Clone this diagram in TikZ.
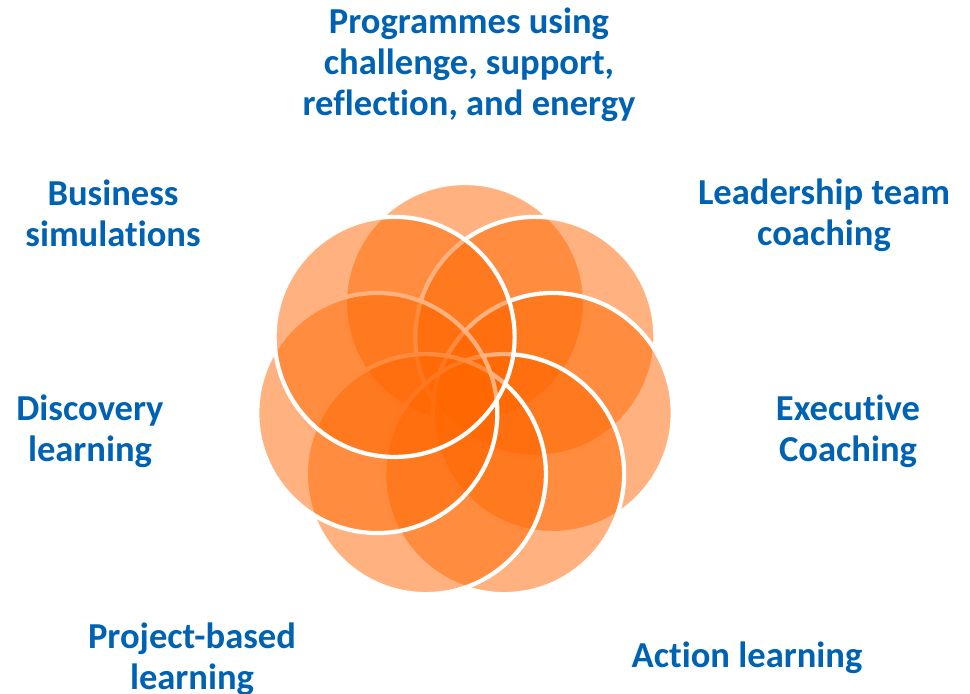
\documentclass[tikz,border=0pt]{standalone}
\usepackage{fontspec}
\setmainfont{Carlito}[Ligatures={NoCommon,NoContextual,NoRequired}, Contextuals=NoAlternate]
\usepackage{xcolor}
\usetikzlibrary{shapes,positioning}

\definecolor{labelblue}{RGB}{0,98,178}
\definecolor{petal}{RGB}{255,102,0}

\tikzset{
  petalcirc/.style={circle, minimum size=6cm, inner sep=0pt, fill=petal, fill opacity=0.5, draw=white, draw opacity=1, line width=3pt},
  lbl/.style={text=labelblue, font=\fontsize{26}{29}\selectfont\bfseries, align=center}
}

\begin{document}
\begin{tikzpicture}[x=0.025cm, y=-0.025cm]
  \useasboundingbox (0,0) rectangle (970,693);

  % Petals, drawn clockwise from the top
  \node[petalcirc] (ptop) at (465,303) {};
  \node[petalcirc] (pur)  at (535.4,336.9) {};
  \node[petalcirc] (pr)   at (552.7,413.0) {};
  \node[petalcirc] (plr)  at (504.1,474.1) {};
  \node[petalcirc] (pll)  at (425.9,474.1) {};
  \node[petalcirc] (pl)   at (377.3,413.0) {};
  \node[petalcirc] (pul)  at (394.6,336.9) {};

  % Labels
  \node[lbl] (programmes) at (469,65) {Programmes using\\challenge, support,\\reflection, and energy};
  \node[lbl] (bizsim) at (113,213) {Business\\simulations};
  \node[lbl] (teamcoach) at (824,215) {Leadership team\\coaching};
  \node[lbl] (discovery) at (90,431) {Discovery\\learning};
  \node[lbl] (execcoach) at (848,431) {Executive\\Coaching};
  \node[lbl] (projbased) at (192,659) {Project-based\\learning};
  \node[lbl] (actionlearn) at (747,658) {Action learning};

\end{tikzpicture}
\end{document}
